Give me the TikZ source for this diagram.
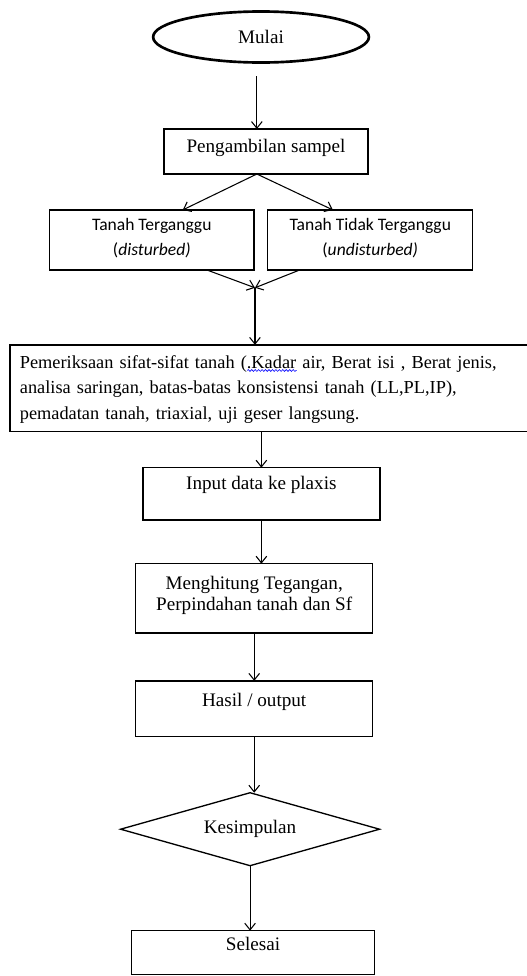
\documentclass[tikz,border=0pt]{standalone}
\usepackage{fontspec}
\setmainfont{Liberation Serif}
\newfontfamily\calibri{Carlito}
\usetikzlibrary{shapes.geometric, arrows.meta, positioning, decorations.pathmorphing}

% spell-check squiggle under one word
\newsavebox\salahbox
\newcommand\salah[1]{%
  \sbox\salahbox{#1}%
  \rlap{\raisebox{-2.5pt}{\tikz\draw[blue, line width=0.45pt,
      decorate, decoration={snake, amplitude=0.7pt, segment length=2.6pt}]
      (0,0) -- (\wd\salahbox,0);}}\usebox\salahbox}

\tikzset{
    box/.style={
        rectangle, draw=black, line width=1pt, outer sep=0pt,
        inner xsep=3pt, inner ysep=2pt, align=center,
        font=\fontsize{14.4pt}{15.75pt}\selectfont
    },
    topbox/.style={box, text height=5pt, text depth=#1},
    sidebox/.style={
        box, minimum width=5.40cm, minimum height=1.59cm, text depth=5pt,
        font=\calibri\fontsize{13.2pt}{18.75pt}\selectfont
    },
    terminal/.style={
        ellipse, draw=black, line width=2pt, inner sep=0pt, outer sep=0pt,
        minimum width=5.71cm, minimum height=1.35cm,
        font=\fontsize{14.4pt}{15.75pt}\selectfont
    },
    decision/.style={
        diamond, draw=black, line width=1pt, inner sep=0pt, outer sep=0pt,
        aspect=3.55, minimum width=6.85cm, minimum height=1.93cm,
        font=\fontsize{14.4pt}{15.75pt}\selectfont
    },
    arrow/.style={-{Straight Barb[length=5pt,width=8pt]}, line width=0.8pt}
}

\begin{document}
\begin{tikzpicture}

\useasboundingbox (-6.906,0.979) rectangle (7.011,-24.844);

% ── Start and sampling ───────────────────────────────────────────────────────
\node[terminal] (mulai) at (0,0) {Mulai};
\node[topbox=3pt, minimum width=5.40cm, minimum height=1.19cm,
      below=1.76cm of mulai, xshift=0.13cm] (ambil) {Pengambilan sampel};

% ── Sample types ─────────────────────────────────────────────────────────────
\node[sidebox, below=0.95cm of ambil, xshift=-3.02cm] (terganggu)
    {Tanah Terganggu\\(\textit{disturbed)}};
\node[sidebox, minimum width=5.42cm, right=0.37cm of terganggu] (utuh)
    {Tanah Tidak Terganggu\\(\textit{undisturbed)}};

% ── Laboratory tests ─────────────────────────────────────────────────────────
\node[topbox=35pt, align=left, text width=13.20cm, inner xsep=7.5pt,
      minimum height=2.30cm, font=\fontsize{13.8pt}{19.1pt}\selectfont,
      below=1.98cm of terganggu, xshift=3.11cm] (periksa)
    {Pemeriksaan sifat-sifat tanah (\salah{.Kadar} air, Berat isi , Berat jenis,\\
     analisa saringan, batas-batas konsistensi tanah (LL,PL,IP),\\
     pemadatan tanah, triaxial, uji geser langsung.};
\coordinate (temu) at ([xshift=-0.38cm, yshift=1.51cm]periksa.north);

% ── Modelling ────────────────────────────────────────────────────────────────
\node[topbox=11pt, minimum width=6.27cm, minimum height=1.38cm,
      below=0.95cm of periksa, xshift=-0.21cm] (input) {Input data ke plaxis};
\node[box, text depth=7.8pt, minimum width=6.27cm, minimum height=1.83cm,
      below=1.16cm of input, xshift=-0.19cm] (hitung)
    {Menghitung Tegangan,\\Perpindahan tanah dan Sf};
\node[topbox=8pt, minimum width=6.27cm, minimum height=1.48cm,
      below=1.27cm of hitung] (hasil) {Hasil / output};

% ── Conclusion and end ───────────────────────────────────────────────────────
\node[decision, below=1.48cm of hasil, xshift=-0.11cm] (simpul) {Kesimpulan};
\node[topbox=8pt, minimum width=6.43cm, minimum height=1.16cm,
      below=1.72cm of simpul, xshift=0.08cm] (selesai) {Selesai};

% ── Arrows ───────────────────────────────────────────────────────────────────
\draw[arrow] ([xshift=-0.11cm, yshift=-0.36cm]mulai.south)
    -- ([xshift=-0.11cm]mulai.south |- ambil.north);
\draw[arrow] ([xshift=-0.24cm]ambil.south) -- ([xshift=0.82cm]terganggu.north);
\draw[arrow] ([xshift=-0.24cm]ambil.south) -- ([xshift=-0.99cm]utuh.north);
\draw[arrow] ([xshift=1.46cm]terganggu.south) -- (temu);
\draw[arrow] ([xshift=-1.87cm]utuh.south) -- (temu);
\draw[arrow] (temu) -- (temu |- periksa.north);
\draw[arrow] (input.north |- periksa.south) -- (input.north);
\draw[arrow] (input.south) -- (input.south |- hitung.north);
\draw[arrow] (hitung.south) -- (hasil.north);
\draw[arrow] (hasil.south) -- (hasil.south |- simpul.north);
\draw[arrow] (simpul.south) -- (simpul.south |- selesai.north);

\end{tikzpicture}
\end{document}
